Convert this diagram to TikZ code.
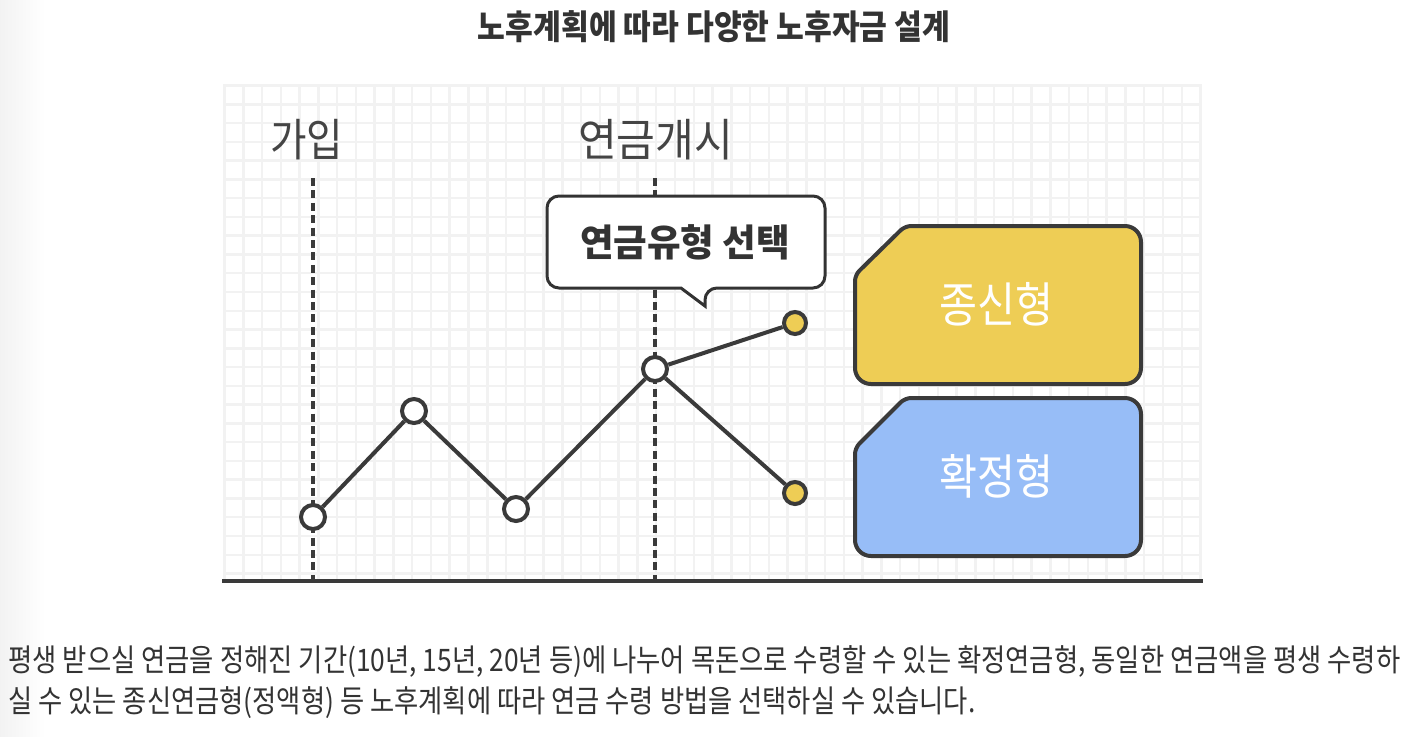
\documentclass[tikz,border=0pt]{standalone}
\usepackage{fontspec}
\usepackage{graphicx}
\setmainfont{Noto Sans CJK KR}
\definecolor{ink}{HTML}{3A3A3A}
\definecolor{txt}{HTML}{333333}
\definecolor{lbl}{HTML}{444444}
\definecolor{gridc}{HTML}{F2F2F2}
\definecolor{yel}{HTML}{EECD55}
\definecolor{blu}{HTML}{97BDF7}
\newcommand\fitw[2]{\resizebox{#1}{\height}{#2}}
\tikzset{
  gridline/.style={draw=gridc, line width=1.25pt},
  dashline/.style={draw=ink, line width=2pt, dash pattern=on 4pt off 2.2pt},
  baseline/.style={draw=ink, line width=2pt},
  chart/.style={draw=ink, line width=2pt},
  dot/.style={circle, draw=ink, line width=2pt, fill=white, minimum size=12pt, inner sep=0pt},
  ydot/.style={circle, draw=ink, line width=2pt, fill=yel, minimum size=11pt, inner sep=0pt},
  txtnode/.style={inner sep=0pt, text=txt},
  shapebox/.style={draw=ink, line width=2pt},
  callout/.style={draw=txt, line width=1.5pt, fill=white}
}
\begin{document}
\begin{tikzpicture}[x=0.5pt,y=-0.5pt]
\useasboundingbox (0,0) rectangle (1404,736);
\fill[white] (0,0) rectangle (1404,736);
\shade[left color=black!5, right color=white] (0,0) rectangle (45,736);
% grid
\foreach \i in {0,...,52} \draw[gridline] (224.5+\i*18.77,84) -- (224.5+\i*18.77,580);
\foreach \j in {0,...,26} \draw[gridline] (223,85.5+\j*18.77) -- (1202,85.5+\j*18.77);
% title
\node[txtnode, font=\bfseries\fontsize{17pt}{20pt}\selectfont] (title) at (714,27) {\fitw{236pt}{노후계획에 따라 다양한 노후자금 설계}};
% labels
\node[txtnode, text=lbl, font=\fontsize{22.5pt}{26pt}\selectfont] (join) at (306.5,140) {\fitw{36.5pt}{가입}};
\node[txtnode, text=lbl, font=\fontsize{22.5pt}{26pt}\selectfont] (start) at (655.5,140) {\fitw{77.5pt}{연금개시}};
% dashed lines and base
\coordinate (d1t) at (313,178); \coordinate (d1b) at (313,580);
\coordinate (d2t) at (655,178); \coordinate (d2b) at (655,580);
\draw[dashline] (d1t) -- (d1b);
\draw[dashline] (d2t) -- (d2b);
\coordinate (bl) at (222,581); \coordinate (br) at (1203,581);
\draw[baseline] (bl) -- (br);
% callout
\draw[callout] (686,196) [rounded corners=6pt] -- (825,196) -- (825,288) -- (705,288) [sharp corners] -- (705,306) -- (681,288) [rounded corners=6pt] -- (547,288) -- (547,196) -- cycle;
\node[txtnode, font=\bfseries\fontsize{18.75pt}{22pt}\selectfont] (sel) at (685,242) {\fitw{105pt}{연금유형 선택}};
% chart
\node[dot] (p1) at (313,517) {};
\node[dot] (p2) at (414,411) {};
\node[dot] (p3) at (516,509) {};
\node[dot] (p4) at (655,369) {};
\node[ydot] (y1) at (795,323) {};
\node[ydot] (y2) at (795,493) {};
\draw[chart] (p1) -- (p2) -- (p3) -- (p4);
\draw[chart] (p4) -- (y1);
\draw[chart] (p4) -- (y2);
% boxes
\draw[shapebox, fill=yel] (1000,226) [rounded corners=8pt] -- (1141,226) -- (1141,384) -- (855,384) [rounded corners=3pt] -- (855,275) -- (905,226) -- cycle;
\draw[shapebox, fill=blu] (1000,398) [rounded corners=8pt] -- (1141,398) -- (1141,556) -- (855,556) [rounded corners=3pt] -- (855,448) -- (905,398) -- cycle;
\node[txtnode, text=white, font=\fontsize{24pt}{28pt}\selectfont] (life) at (996,304) {\fitw{57pt}{종신형}};
\node[txtnode, text=white, font=\fontsize{24pt}{28pt}\selectfont] (fixed) at (996,476) {\fitw{57pt}{확정형}};
% paragraph
\node[txtnode, anchor=west, font=\fontsize{15.5pt}{18pt}\selectfont] (para1) at (8,662) {\fitw{696pt}{평생 받으실 연금을 정해진 기간(10년, 15년, 20년 등)에 나누어 목돈으로 수령할 수 있는 확정연금형, 동일한 연금액을 평생 수령하}};
\node[txtnode, anchor=west, font=\fontsize{15.5pt}{18pt}\selectfont] (para2) at (8,703) {\fitw{483.5pt}{실 수 있는 종신연금형(정액형) 등 노후계획에 따라 연금 수령 방법을 선택하실 수 있습니다.}};
\end{tikzpicture}
\end{document}
